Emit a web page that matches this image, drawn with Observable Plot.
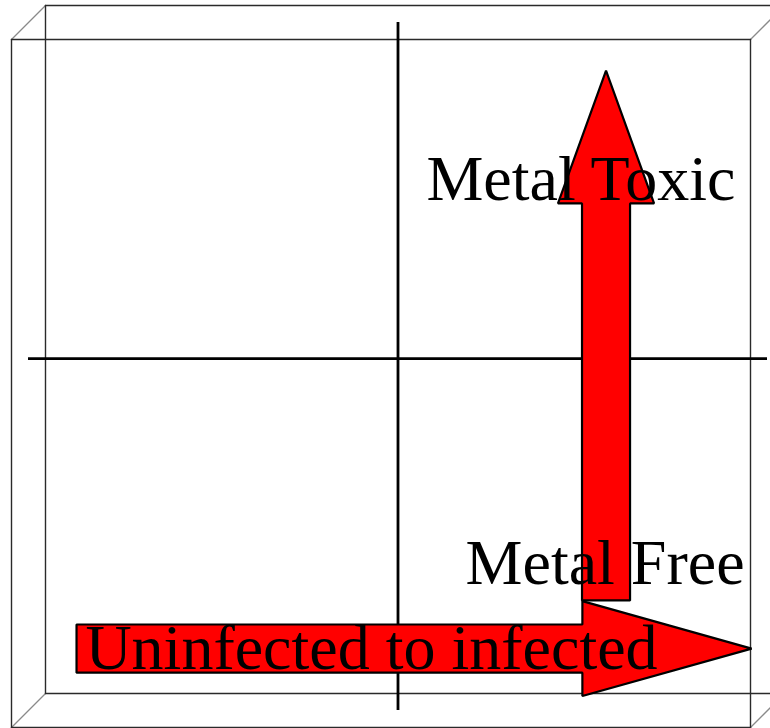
<!DOCTYPE html>
<html>
<head>
<meta charset="utf-8">
<script src="https://cdn.jsdelivr.net/npm/d3@7"></script>
<script src="https://cdn.jsdelivr.net/npm/@observablehq/plot@0.6"></script>
<style>
  html, body { margin: 0; padding: 0; background: white; overflow: hidden; }
  #chart svg { display: block; }
</style>
</head>
<body>
<div id="chart"></div>
<script>
// ---- data ----
const xLimits = [-1, 1];
const yLimits = [-1.023, 0.977];
const zLimits = [-1, 1];
const depthSlantX = 0.046;   // oblique projection of depth onto x
const depthSlantY = 0.0494;  // oblique projection of depth onto y

const axisX = [0];
const axisY = [0];

// arrows: start, tip, shaft half-width, head half-width, head length, direction
const arrowNames = ["Metal", "Infection"];
const arrowFromX = [0.563, -0.870];
const arrowFromY = [-0.703, -0.843];
const arrowToX = [0.563, 0.957];
const arrowToY = [0.837, -0.843];
const arrowShaftHalf = [0.065, 0.070];
const arrowHeadHalf = [0.130, 0.138];
const arrowHeadLen = [0.386, 0.458];
const arrowDir = ["up", "right"];

const labelText = ["Metal Toxic", "Metal Free", "Uninfected to infected"];
const labelX = [0.913, 0.938, -0.846];
const labelY = [0.460, -0.654, -0.901];
const labelAnchor = ["end", "end", "start"];

// ---- build box edges (oblique 3D projection) ----
const proj = (x, y, z) => ({x: x - depthSlantX * z, y: y - depthSlantY * z});
const corners = [];
for (const x of xLimits) for (const y of yLimits) for (const z of zLimits) corners.push({x, y, z});
const faceEdges = [];
const depthEdges = [];
let id = 0;
for (let i = 0; i < corners.length; i++) {
  for (let j = i + 1; j < corners.length; j++) {
    const a = corners[i], b = corners[j];
    const diff = (a.x !== b.x) + (a.y !== b.y) + (a.z !== b.z);
    if (diff !== 1) continue;
    const pa = proj(a.x, a.y, a.z), pb = proj(b.x, b.y, b.z);
    const target = a.z !== b.z ? depthEdges : faceEdges;
    target.push({id, ...pa}, {id, ...pb});
    id++;
  }
}

// ---- build arrow polygons ----
const arrowPts = [];
arrowNames.forEach((name, i) => {
  const s = arrowShaftHalf[i], h = arrowHeadHalf[i], L = arrowHeadLen[i];
  let pts;
  if (arrowDir[i] === "up") {
    const cx = arrowFromX[i], y0 = arrowFromY[i], y1 = arrowToY[i], yb = y1 - L;
    pts = [[cx - s, y0], [cx - s, yb], [cx - h, yb], [cx, y1], [cx + h, yb], [cx + s, yb], [cx + s, y0], [cx - s, y0]];
  } else {
    const cy = arrowFromY[i], x0 = arrowFromX[i], x1 = arrowToX[i], xb = x1 - L;
    pts = [[x0, cy + s], [xb, cy + s], [xb, cy + h], [x1, cy], [xb, cy - h], [xb, cy - s], [x0, cy - s], [x0, cy + s]];
  }
  pts.forEach(([x, y]) => arrowPts.push({name, x, y}));
});

const labels = labelText.map((t, i) => ({t, x: labelX[i], y: labelY[i], a: labelAnchor[i]}));

const plot = Plot.plot({
  width: 770,
  height: 728,
  margin: 0,
  style: {background: "white"},
  x: {domain: xLimits, range: [28, 767], axis: null},
  y: {domain: yLimits, range: [710, 22], axis: null},
  marks: [
    Plot.line(depthEdges, {x: "x", y: "y", z: "id", stroke: "#8a8a8a", strokeWidth: 1.3}),
    Plot.line(faceEdges, {x: "x", y: "y", z: "id", stroke: "#2a2a2a", strokeWidth: 1.4}),
    Plot.ruleX(axisX, {x: d => d, y1: yLimits[0], y2: yLimits[1], stroke: "black", strokeWidth: 2.8}),
    Plot.ruleY(axisY, {y: d => d, x1: xLimits[0], x2: xLimits[1], stroke: "black", strokeWidth: 2.8}),
    Plot.line(arrowPts, {x: "x", y: "y", z: "name", fill: "#ff0000", stroke: "black", strokeWidth: 2.2, strokeLinejoin: "miter", curve: "linear-closed"}),
    ...["start", "end"].map(anchor =>
      Plot.text(labels.filter(d => d.a === anchor), {
        x: "x", y: "y", text: "t", textAnchor: anchor, lineAnchor: "bottom",
        fontFamily: "Liberation Serif", fontSize: 64, fill: "black"
      })
    )
  ]
});
document.getElementById("chart").append(plot);
</script>
</body>
</html>
